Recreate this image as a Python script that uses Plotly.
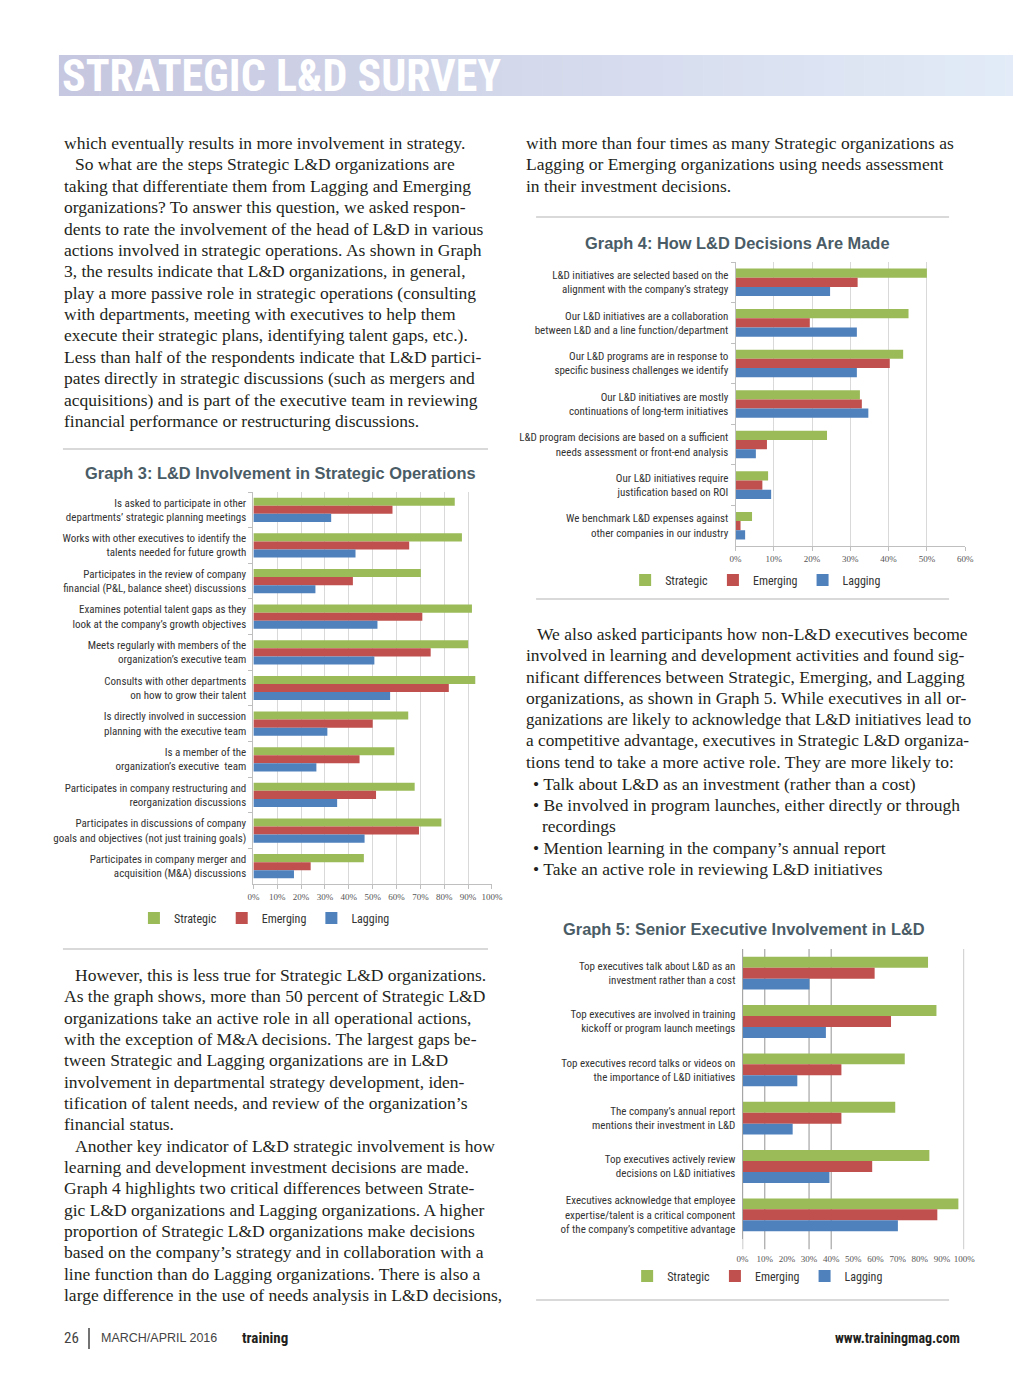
import plotly.graph_objects as go

# page geometry in reference pixel coordinates
W, H = 1024, 1376
# measured horizontal correction of the capture (image_x = SX0 + SXK * page_x)
SX0, SXK = 7.2, 0.981

series_names = ["Strategic", "Emerging", "Lagging"]
series_colors = ["#9bbb59", "#c0504d", "#4f81bd"]

g3_cats = [
    "Is asked to participate in other<br>departments’ strategic planning meetings",
    "Works with other executives to identify the<br>talents needed for future growth",
    "Participates in the review of company<br>financial (P&L, balance sheet) discussions",
    "Examines potential talent gaps as they<br>look at the company’s growth objectives",
    "Meets regularly with members of the<br>organization’s executive team",
    "Consults with other departments<br>on how to grow their talent",
    "Is directly involved in succession<br>planning with the executive team",
    "Is a member of the<br>organization’s executive  team",
    "Participates in company restructuring and<br>reorganization discussions",
    "Participates in discussions of company<br>goals and objectives (not just training goals)",
    "Participates in company merger and<br>acquisition (M&A) discussions",
]
g3_strategic = [84.4, 87.4, 70.2, 91.6, 90.0, 93.0, 64.9, 59.1, 67.6, 78.8, 46.3]
g3_emerging = [58.3, 65.3, 41.7, 70.8, 74.3, 81.9, 50.0, 44.5, 51.4, 69.4, 24.0]
g3_lagging = [32.6, 42.8, 26.0, 52.0, 50.7, 57.3, 31.0, 26.4, 35.1, 46.6, 17.0]

g4_cats = [
    "L&D initiatives are selected based on the<br>alignment with the company’s strategy",
    "Our L&D initiatives are a collaboration<br>between L&D and a line function/department",
    "Our L&D programs are in response to<br>specific business challenges we identify",
    "Our L&D initiatives are mostly<br>continuations of long-term initiatives",
    "L&D program decisions are based on a sufficient<br>needs assessment or front-end analysis",
    "Our L&D initiatives require<br>justification based on ROI",
    "We benchmark L&D expenses against<br>other companies in our industry",
]
g4_strategic = [50.0, 45.2, 43.8, 32.5, 23.9, 8.5, 4.3]
g4_emerging = [31.9, 19.4, 40.3, 33.0, 8.2, 7.0, 1.3]
g4_lagging = [24.7, 31.7, 31.7, 34.7, 5.3, 9.3, 2.5]

g5_cats = [
    "Top executives talk about L&D as an<br>investment rather than a cost",
    "Top executives are involved in training<br>kickoff or program launch meetings",
    "Top executives record talks or videos on<br>the importance of L&D initiatives",
    "The company’s annual report<br>mentions their investment in L&D",
    "Top executives actively review<br>decisions on L&D initiatives",
    "Executives acknowledge that employee<br>expertise/talent is a critical component<br>of the company’s competitive advantage",
]
g5_strategic = [83.7, 87.5, 73.2, 68.9, 84.3, 97.4]
g5_emerging = [59.6, 67.0, 44.6, 44.6, 58.5, 87.9]
g5_lagging = [30.2, 37.6, 24.7, 22.6, 39.2, 70.1]

g3_tickvals = [0, 10, 20, 30, 40, 50, 60, 70, 80, 90, 100]
g3_ticktext = ["0%", "10%", "20%", "30%", "40%", "50%", "60%", "70%", "80%", "90%", "100%"]
g4_tickvals = [0, 10, 20, 30, 40, 50, 60]
g4_ticktext = ["0%", "10%", "20%", "30%", "40%", "50%", "60%"]
g5_tickvals = [0, 10, 20, 30, 40, 50, 60, 70, 80, 90, 100]
g5_ticktext = ["0%", "10%", "20%", "30%", "40%", "50%", "60%", "70%", "80%", "90%", "100%"]
g5_gridvals = [0, 10, 30, 40, 100]

SERIF = "Liberation Serif, Times New Roman, serif"
NARROW = "Liberation Sans Narrow, Roboto Condensed, Roboto, sans-serif"
SANS = "Liberation Sans, Arial, sans-serif"


def px(x):
    return max(0.0, min(1.0, ((x - SX0) / SXK) / W))


def py(y):
    return 1 - y / H


fig = go.Figure()

charts = [
    ("x", "y", "legend", g3_cats, [g3_strategic, g3_emerging, g3_lagging]),
    ("x2", "y2", "legend2", g4_cats, [g4_strategic, g4_emerging, g4_lagging]),
    ("x3", "y3", "legend3", g5_cats, [g5_strategic, g5_emerging, g5_lagging]),
]
for xa, ya, lg, cats, vals in charts:
    for name, color, v in zip(series_names, series_colors, vals):
        fig.add_trace(go.Bar(
            y=cats, x=v, name=name, orientation="h",
            marker=dict(color=color, line=dict(width=0)),
            xaxis=xa, yaxis=ya, legend=lg, hoverinfo="x+name",
        ))


def xaxis_style(domain, rng, tv, tt, anchor, grid=True, line=True, ticklen=4, tickcolor="#bfbfbf"):
    return dict(
        domain=domain, range=rng, tickvals=tv, ticktext=tt,
        showgrid=grid, gridcolor="#d9d9d9", gridwidth=1,
        showline=line, linecolor="#bfbfbf", zeroline=False,
        ticks="outside", ticklen=ticklen, tickcolor=tickcolor,
        tickfont=dict(family=SERIF, size=9, color="#555555"),
        anchor=anchor, fixedrange=True,
    )


def yaxis_style(domain, anchor, standoff, ticks="outside", linecolor="#bfbfbf"):
    return dict(
        domain=domain, autorange="reversed", anchor=anchor,
        showline=True, linecolor=linecolor, showgrid=False,
        ticks=ticks, ticklen=4, tickcolor="#bfbfbf", tickson="boundaries",
        tickfont=dict(family=NARROW, size=11, color="#333333"),
        ticklabelstandoff=standoff, fixedrange=True,
    )


layout = dict(
    width=W, height=H, autosize=False,
    margin=dict(l=0, r=0, t=0, b=0),
    paper_bgcolor="white", plot_bgcolor="white",
    barmode="group", bargap=0.32, bargroupgap=0.0,
    xaxis=xaxis_style([px(254), px(492)], [0, 100], g3_tickvals, g3_ticktext, "y"),
    yaxis=yaxis_style([py(884), py(492)], "x", 4),
    xaxis2=xaxis_style([px(735), px(964)], [0, 60], g4_tickvals, g4_ticktext, "y2"),
    yaxis2=yaxis_style([py(546), py(262)], "x2", 4),
    xaxis3=xaxis_style([px(742), px(963)], [0, 100], g5_tickvals, g5_ticktext, "y3",
                       grid=False, line=False, ticklen=11, tickcolor="rgba(0,0,0,0)"),
    yaxis3=yaxis_style([py(1239), py(949)], "x3", 4, ticks="", linecolor="#a6a6a6"),
)
legend_common = dict(
    orientation="h", xanchor="center", yanchor="middle",
    font=dict(family=NARROW, size=12, color="#333333"),
    itemwidth=30, bgcolor="rgba(0,0,0,0)", traceorder="normal",
)
layout["legend"] = dict(x=px(265), y=py(918), **legend_common)
layout["legend2"] = dict(x=px(755), y=py(580), **legend_common)
layout["legend3"] = dict(x=px(757), y=py(1276), **legend_common)
fig.update_layout(**layout)

shapes = []
# header gradient bar
c0 = (198, 199, 224)
c1 = (226, 235, 247)
nseg = 48
x0, x1 = 60, W
for i in range(nseg):
    t = i / (nseg - 1)
    col = tuple(int(round(c0[k] + (c1[k] - c0[k]) * t)) for k in range(3))
    xa = x0 + (x1 - x0) * i / nseg
    xb = x0 + (x1 - x0) * (i + 1) / nseg + 0.6
    shapes.append(dict(type="rect", xref="paper", yref="paper",
                       x0=px(xa), x1=px(xb), y0=py(96), y1=py(55),
                       fillcolor="rgb(%d,%d,%d)" % col, line=dict(width=0), layer="below"))

# separator rules
for (xa, xb, yy) in [(64, 488, 449), (64, 488, 949), (536, 948, 217), (536, 948, 599), (536, 948, 1300)]:
    shapes.append(dict(type="line", xref="paper", yref="paper",
                       x0=px(xa), x1=px(xb), y0=py(yy), y1=py(yy),
                       line=dict(color="#b3b3b3", width=1)))
# footer divider
shapes.append(dict(type="line", xref="paper", yref="paper",
                   x0=px(90), x1=px(90), y0=py(1328), y1=py(1349),
                   line=dict(color="#444444", width=1.5)))
# graph 5 gridlines (only a few are drawn in the original; they run past the plot bottom)
for g in g5_gridvals:
    shapes.append(dict(type="line", xref="x3", yref="y3 domain",
                       x0=g, x1=g, y0=-0.035, y1=1,
                       line=dict(color="#a6a6a6", width=1.2), layer="below"))
fig.update_layout(shapes=shapes)

ann = []


def text(x, y, s, size=17.5, family=SERIF, color="#231f20", anchor="left", **kw):
    ann.append(dict(x=px(x), y=py(y), xref="paper", yref="paper", text=s,
                    showarrow=False, xanchor=anchor, yanchor="middle", borderpad=0,
                    font=dict(family=family, size=size, color=color), **kw))


text(62, 76, "<b>STRATEGIC L&D SURVEY</b>", size=44, family=NARROW, color="white")

left_top = [
    (64, "which eventually results in more involvement in strategy."),
    (75, "So what are the steps Strategic L&D organizations are"),
    (64, "taking that differentiate them from Lagging and Emerging"),
    (64, "organizations? To answer this question, we asked respon-"),
    (64, "dents to rate the involvement of the head of L&D in various"),
    (64, "actions involved in strategic operations. As shown in Graph"),
    (64, "3, the results indicate that L&D organizations, in general,"),
    (64, "play a more passive role in strategic operations (consulting"),
    (64, "with departments, meeting with executives to help them"),
    (64, "execute their strategic plans, identifying talent gaps, etc.)."),
    (64, "Less than half of the respondents indicate that L&D partici-"),
    (64, "pates directly in strategic discussions (such as mergers and"),
    (64, "acquisitions) and is part of the executive team in reviewing"),
    (64, "financial performance or restructuring discussions."),
]
for i, (x, s) in enumerate(left_top):
    text(x, 143 + i * 21.38, s)

left_bottom = [
    (75, "However, this is less true for Strategic L&D organizations."),
    (64, "As the graph shows, more than 50 percent of Strategic L&D"),
    (64, "organizations take an active role in all operational actions,"),
    (64, "with the exception of M&A decisions. The largest gaps be-"),
    (64, "tween Strategic and Lagging organizations are in L&D"),
    (64, "involvement in departmental strategy development, iden-"),
    (64, "tification of talent needs, and review of the organization’s"),
    (64, "financial status."),
    (75, "Another key indicator of L&D strategic involvement is how"),
    (64, "learning and development investment decisions are made."),
    (64, "Graph 4 highlights two critical differences between Strate-"),
    (64, "gic L&D organizations and Lagging organizations. A higher"),
    (64, "proportion of Strategic L&D organizations make decisions"),
    (64, "based on the company’s strategy and in collaboration with a"),
    (64, "line function than do Lagging organizations. There is also a"),
    (64, "large difference in the use of needs analysis in L&D decisions,"),
]
for i, (x, s) in enumerate(left_bottom):
    text(x, 975 + i * 21.33, s)

right_top = [
    "with more than four times as many Strategic organizations as",
    "Lagging or Emerging organizations using needs assessment",
    "in their investment decisions.",
]
for i, s in enumerate(right_top):
    text(525, 143 + i * 21.38, s)

right_mid = [
    (536, "We also asked participants how non-L&D executives become", 17.5),
    (525, "involved in learning and development activities and found sig-", 17.5),
    (525, "nificant differences between Strategic, Emerging, and Lagging", 17.5),
    (525, "organizations, as shown in Graph 5. While executives in all or-", 17.5),
    (525, "ganizations are likely to acknowledge that L&D initiatives lead to", 16.9),
    (525, "a competitive advantage, executives in Strategic L&D organiza-", 17.3),
    (525, "tions tend to take a more active role. They are more likely to:", 17.5),
    (532, "• Talk about L&D as an investment (rather than a cost)", 17.5),
    (532, "• Be involved in program launches, either directly or through", 17.5),
    (541, "recordings", 17.5),
    (532, "• Mention learning in the company’s annual report", 17.5),
    (532, "• Take an active role in reviewing L&D initiatives", 17.5),
]
for i, (x, s, sz) in enumerate(right_mid):
    text(x, 634 + i * 21.36, s, size=sz)

TITLE_C = "#4a5c66"
text(281, 473, "<b>Graph 3: L&D Involvement in Strategic Operations</b>", size=16.4, family=SANS, color=TITLE_C, anchor="center")
text(737, 243, "<b>Graph 4: How L&D Decisions Are Made</b>", size=16.4, family=SANS, color=TITLE_C, anchor="center")
text(743, 929, "<b>Graph 5: Senior Executive Involvement in L&D</b>", size=16.4, family=SANS, color=TITLE_C, anchor="center")

# footer
text(64, 1338, "26", size=15, family=NARROW, color="#444444")
text(101, 1338, "MARCH/APRIL 2016", size=12.5, family=SANS, color="#444444")
text(242, 1338, "<b>training</b>", size=15, family=NARROW, color="#231f20")
text(960, 1338, "<b>www.trainingmag.com</b>", size=14, family=NARROW, color="#231f20", anchor="right")

fig.update_layout(annotations=ann)

fig.write_html(
    "out.html",
    config={"displayModeBar": False},
    post_script="document.body.style.margin='0';document.body.style.padding='0';"
                "document.documentElement.style.overflow='hidden';",
)
